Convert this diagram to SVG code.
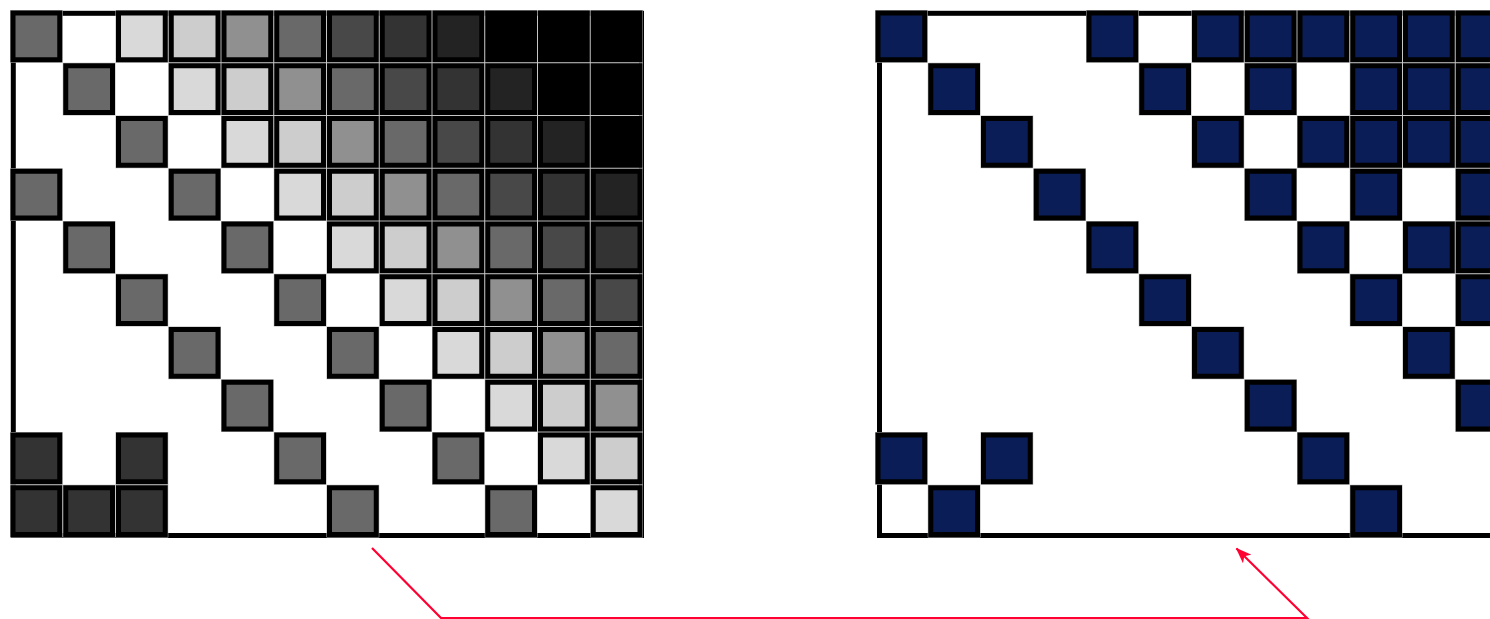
<svg xmlns="http://www.w3.org/2000/svg" xmlns:xlink="http://www.w3.org/1999/xlink" width="1490" height="619" viewBox="0 0 1490 619">
<style>
.frame{fill:none;stroke:#000;stroke-width:5}
.a{fill:#696969}.l1{fill:#d9d9d9}.l2{fill:#cdcdcd}.l3{fill:#909090}
.d48{fill:#484848}.d33{fill:#333333}.d22{fill:#232323}.k{fill:#000}
.n{fill:#0a1d56}
.conn{fill:none;stroke:#ff0033;stroke-width:2.2}
</style>
<defs>
<g id="cell">
<rect x="0.5" y="0.5" width="51.75" height="51.75" fill="none" stroke="#b3b3b3" stroke-width="1"/>
<rect x="3" y="3" width="46.75" height="46.75" stroke="#000" stroke-width="5"/>
</g>
<marker id="arrow" viewBox="0 0 16 12" markerWidth="16" markerHeight="12" refX="15" refY="6" orient="auto" markerUnits="userSpaceOnUse">
<path d="M0,0 L16,6 L0,12 L4,6 z" fill="#ff0033"/>
</marker>
</defs>
<rect width="1490" height="619" fill="#fff"/>
<g id="matrix-left">
<rect class="frame" x="13.3" y="13.3" width="628.2" height="522.2"/>
<use xlink:href="#cell" href="#cell" class="a" x="10" y="10"/>
<use xlink:href="#cell" href="#cell" class="l1" x="115.5" y="10"/>
<use xlink:href="#cell" href="#cell" class="l2" x="168.25" y="10"/>
<use xlink:href="#cell" href="#cell" class="l3" x="221" y="10"/>
<use xlink:href="#cell" href="#cell" class="a" x="273.75" y="10"/>
<use xlink:href="#cell" href="#cell" class="d48" x="326.5" y="10"/>
<use xlink:href="#cell" href="#cell" class="d33" x="379.25" y="10"/>
<use xlink:href="#cell" href="#cell" class="d22" x="432" y="10"/>
<use xlink:href="#cell" href="#cell" class="k" x="484.75" y="10"/>
<use xlink:href="#cell" href="#cell" class="k" x="537.5" y="10"/>
<use xlink:href="#cell" href="#cell" class="k" x="590.25" y="10"/>

<use xlink:href="#cell" href="#cell" class="a" x="62.75" y="62.75"/>
<use xlink:href="#cell" href="#cell" class="l1" x="168.25" y="62.75"/>
<use xlink:href="#cell" href="#cell" class="l2" x="221" y="62.75"/>
<use xlink:href="#cell" href="#cell" class="l3" x="273.75" y="62.75"/>
<use xlink:href="#cell" href="#cell" class="a" x="326.5" y="62.75"/>
<use xlink:href="#cell" href="#cell" class="d48" x="379.25" y="62.75"/>
<use xlink:href="#cell" href="#cell" class="d33" x="432" y="62.75"/>
<use xlink:href="#cell" href="#cell" class="d22" x="484.75" y="62.75"/>
<use xlink:href="#cell" href="#cell" class="k" x="537.5" y="62.75"/>
<use xlink:href="#cell" href="#cell" class="k" x="590.25" y="62.75"/>

<use xlink:href="#cell" href="#cell" class="a" x="115.5" y="115.5"/>
<use xlink:href="#cell" href="#cell" class="l1" x="221" y="115.5"/>
<use xlink:href="#cell" href="#cell" class="l2" x="273.75" y="115.5"/>
<use xlink:href="#cell" href="#cell" class="l3" x="326.5" y="115.5"/>
<use xlink:href="#cell" href="#cell" class="a" x="379.25" y="115.5"/>
<use xlink:href="#cell" href="#cell" class="d48" x="432" y="115.5"/>
<use xlink:href="#cell" href="#cell" class="d33" x="484.75" y="115.5"/>
<use xlink:href="#cell" href="#cell" class="d22" x="537.5" y="115.5"/>
<use xlink:href="#cell" href="#cell" class="k" x="590.25" y="115.5"/>

<use xlink:href="#cell" href="#cell" class="a" x="10" y="168.25"/>
<use xlink:href="#cell" href="#cell" class="a" x="168.25" y="168.25"/>
<use xlink:href="#cell" href="#cell" class="l1" x="273.75" y="168.25"/>
<use xlink:href="#cell" href="#cell" class="l2" x="326.5" y="168.25"/>
<use xlink:href="#cell" href="#cell" class="l3" x="379.25" y="168.25"/>
<use xlink:href="#cell" href="#cell" class="a" x="432" y="168.25"/>
<use xlink:href="#cell" href="#cell" class="d48" x="484.75" y="168.25"/>
<use xlink:href="#cell" href="#cell" class="d33" x="537.5" y="168.25"/>
<use xlink:href="#cell" href="#cell" class="d22" x="590.25" y="168.25"/>

<use xlink:href="#cell" href="#cell" class="a" x="62.75" y="221"/>
<use xlink:href="#cell" href="#cell" class="a" x="221" y="221"/>
<use xlink:href="#cell" href="#cell" class="l1" x="326.5" y="221"/>
<use xlink:href="#cell" href="#cell" class="l2" x="379.25" y="221"/>
<use xlink:href="#cell" href="#cell" class="l3" x="432" y="221"/>
<use xlink:href="#cell" href="#cell" class="a" x="484.75" y="221"/>
<use xlink:href="#cell" href="#cell" class="d48" x="537.5" y="221"/>
<use xlink:href="#cell" href="#cell" class="d33" x="590.25" y="221"/>

<use xlink:href="#cell" href="#cell" class="a" x="115.5" y="273.75"/>
<use xlink:href="#cell" href="#cell" class="a" x="273.75" y="273.75"/>
<use xlink:href="#cell" href="#cell" class="l1" x="379.25" y="273.75"/>
<use xlink:href="#cell" href="#cell" class="l2" x="432" y="273.75"/>
<use xlink:href="#cell" href="#cell" class="l3" x="484.75" y="273.75"/>
<use xlink:href="#cell" href="#cell" class="a" x="537.5" y="273.75"/>
<use xlink:href="#cell" href="#cell" class="d48" x="590.25" y="273.75"/>

<use xlink:href="#cell" href="#cell" class="a" x="168.25" y="326.5"/>
<use xlink:href="#cell" href="#cell" class="a" x="326.5" y="326.5"/>
<use xlink:href="#cell" href="#cell" class="l1" x="432" y="326.5"/>
<use xlink:href="#cell" href="#cell" class="l2" x="484.75" y="326.5"/>
<use xlink:href="#cell" href="#cell" class="l3" x="537.5" y="326.5"/>
<use xlink:href="#cell" href="#cell" class="a" x="590.25" y="326.5"/>

<use xlink:href="#cell" href="#cell" class="a" x="221" y="379.25"/>
<use xlink:href="#cell" href="#cell" class="a" x="379.25" y="379.25"/>
<use xlink:href="#cell" href="#cell" class="l1" x="484.75" y="379.25"/>
<use xlink:href="#cell" href="#cell" class="l2" x="537.5" y="379.25"/>
<use xlink:href="#cell" href="#cell" class="l3" x="590.25" y="379.25"/>

<use xlink:href="#cell" href="#cell" class="d33" x="10" y="432"/>
<use xlink:href="#cell" href="#cell" class="d33" x="115.5" y="432"/>
<use xlink:href="#cell" href="#cell" class="a" x="273.75" y="432"/>
<use xlink:href="#cell" href="#cell" class="a" x="432" y="432"/>
<use xlink:href="#cell" href="#cell" class="l1" x="537.5" y="432"/>
<use xlink:href="#cell" href="#cell" class="l2" x="590.25" y="432"/>

<use xlink:href="#cell" href="#cell" class="d33" x="10" y="484.75"/>
<use xlink:href="#cell" href="#cell" class="d33" x="62.75" y="484.75"/>
<use xlink:href="#cell" href="#cell" class="d33" x="115.5" y="484.75"/>
<use xlink:href="#cell" href="#cell" class="a" x="326.5" y="484.75"/>
<use xlink:href="#cell" href="#cell" class="a" x="484.75" y="484.75"/>
<use xlink:href="#cell" href="#cell" class="l1" x="590.25" y="484.75"/>
</g>
<g id="matrix-right">
<rect class="frame" x="879.5" y="13.3" width="700" height="522.2"/>
<use xlink:href="#cell" href="#cell" class="n" x="875" y="10"/>
<use xlink:href="#cell" href="#cell" class="n" x="1086" y="10"/>
<use xlink:href="#cell" href="#cell" class="n" x="1191.5" y="10"/>
<use xlink:href="#cell" href="#cell" class="n" x="1244.25" y="10"/>
<use xlink:href="#cell" href="#cell" class="n" x="1297" y="10"/>
<use xlink:href="#cell" href="#cell" class="n" x="1349.75" y="10"/>
<use xlink:href="#cell" href="#cell" class="n" x="1402.5" y="10"/>
<use xlink:href="#cell" href="#cell" class="n" x="1455.25" y="10"/>

<use xlink:href="#cell" href="#cell" class="n" x="927.75" y="62.75"/>
<use xlink:href="#cell" href="#cell" class="n" x="1138.75" y="62.75"/>
<use xlink:href="#cell" href="#cell" class="n" x="1244.25" y="62.75"/>
<use xlink:href="#cell" href="#cell" class="n" x="1349.75" y="62.75"/>
<use xlink:href="#cell" href="#cell" class="n" x="1402.5" y="62.75"/>
<use xlink:href="#cell" href="#cell" class="n" x="1455.25" y="62.75"/>

<use xlink:href="#cell" href="#cell" class="n" x="980.5" y="115.5"/>
<use xlink:href="#cell" href="#cell" class="n" x="1191.5" y="115.5"/>
<use xlink:href="#cell" href="#cell" class="n" x="1297" y="115.5"/>
<use xlink:href="#cell" href="#cell" class="n" x="1349.75" y="115.5"/>
<use xlink:href="#cell" href="#cell" class="n" x="1402.5" y="115.5"/>
<use xlink:href="#cell" href="#cell" class="n" x="1455.25" y="115.5"/>

<use xlink:href="#cell" href="#cell" class="n" x="1033.25" y="168.25"/>
<use xlink:href="#cell" href="#cell" class="n" x="1244.25" y="168.25"/>
<use xlink:href="#cell" href="#cell" class="n" x="1349.75" y="168.25"/>
<use xlink:href="#cell" href="#cell" class="n" x="1455.25" y="168.25"/>

<use xlink:href="#cell" href="#cell" class="n" x="1086" y="221"/>
<use xlink:href="#cell" href="#cell" class="n" x="1297" y="221"/>
<use xlink:href="#cell" href="#cell" class="n" x="1402.5" y="221"/>
<use xlink:href="#cell" href="#cell" class="n" x="1455.25" y="221"/>

<use xlink:href="#cell" href="#cell" class="n" x="1138.75" y="273.75"/>
<use xlink:href="#cell" href="#cell" class="n" x="1349.75" y="273.75"/>
<use xlink:href="#cell" href="#cell" class="n" x="1455.25" y="273.75"/>

<use xlink:href="#cell" href="#cell" class="n" x="1191.5" y="326.5"/>
<use xlink:href="#cell" href="#cell" class="n" x="1402.5" y="326.5"/>

<use xlink:href="#cell" href="#cell" class="n" x="1244.25" y="379.25"/>
<use xlink:href="#cell" href="#cell" class="n" x="1455.25" y="379.25"/>

<use xlink:href="#cell" href="#cell" class="n" x="875" y="432"/>
<use xlink:href="#cell" href="#cell" class="n" x="980.5" y="432"/>
<use xlink:href="#cell" href="#cell" class="n" x="1297" y="432"/>

<use xlink:href="#cell" href="#cell" class="n" x="927.75" y="484.75"/>
<use xlink:href="#cell" href="#cell" class="n" x="1349.75" y="484.75"/>
</g>
<g id="connectors">
<path class="conn" d="M372,548 L441,618 L1307,618 L1236.5,548.5" marker-end="url(#arrow)"/>
</g>
</svg>
